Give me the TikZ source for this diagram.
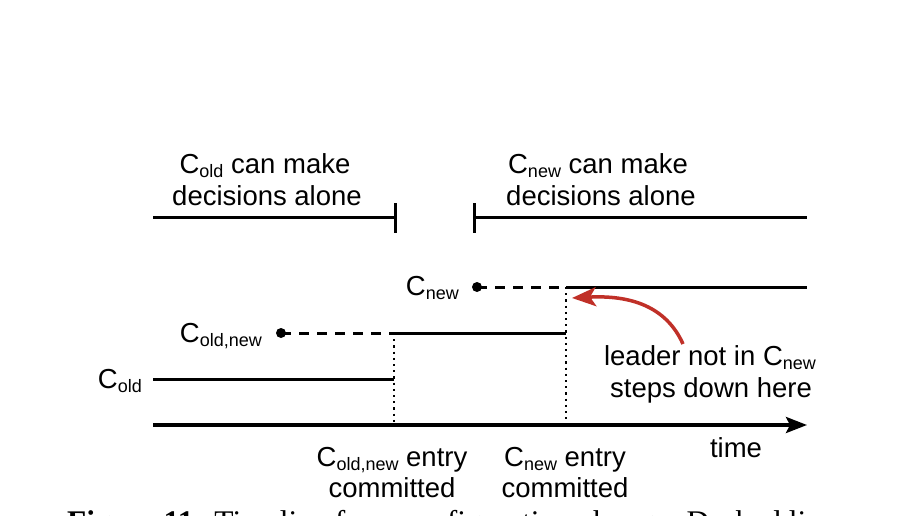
\documentclass[tikz,border=0pt]{standalone}
\usepackage{fontspec}
\setmainfont{Liberation Sans}
\newfontfamily\capfont{Liberation Serif}
\usetikzlibrary{arrows.meta}
\definecolor{arrowred}{RGB}{192,48,40}
\newcommand\lsub[1]{\raisebox{-4pt}{\fontsize{18}{18}\selectfont #1}}
\begin{document}
\begin{tikzpicture}[x=1pt,y=-1pt,
  lbl/.style={font=\fontsize{27.5}{32}\selectfont, inner sep=0pt, anchor=base},
  seg/.style={line width=3pt},
  dashseg/.style={line width=3pt, dash pattern=on 10pt off 8pt},
  dotseg/.style={line width=2.2pt, dash pattern=on 2.2pt off 4pt},
  dotpt/.style={circle, fill=black, inner sep=0pt, minimum size=10pt},
]
\useasboundingbox (0,0) rectangle (904,516);
% top spans
\coordinate (aL) at (153,217); \coordinate (aR) at (395,217);
\coordinate (bL) at (474,217); \coordinate (bR) at (807,217);
\coordinate (aRt) at (395,203); \coordinate (aRb) at (395,233);
\coordinate (bLt) at (474,203); \coordinate (bLb) at (474,233);
\draw[seg] (aL) -- (aR);
\draw[seg] (aRt) -- (aRb);
\draw[seg] (bL) -- (bR);
\draw[seg] (bLt) -- (bLb);
\node[lbl] (t1a) at (265,173) {C\lsub{old} can make};
\node[lbl] (t1b) at (267,205) {decisions alone};
\node[lbl] (t2a) at (598,173) {C\lsub{new} can make};
\node[lbl] (t2b) at (601,205) {decisions alone};
% C_new row
\node[dotpt] (d3) at (477,287) {};
\coordinate (c3s) at (566,287); \coordinate (c3e) at (807,287);
\draw[dashseg] (d3.center) -- (c3s);
\draw[seg] (c3s) -- (c3e);
\node[lbl, anchor=base east] (l3) at (459,295) {C\lsub{new}};
% C_old,new row
\node[dotpt] (d2) at (281,333) {};
\coordinate (c2s) at (394,333); \coordinate (c2e) at (566,333);
\draw[dashseg] (d2.center) -- (c2s);
\draw[seg] (c2s) -- (c2e);
\node[lbl, anchor=base east] (l2) at (262,342) {C\lsub{old,new}};
% C_old row
\coordinate (c1s) at (153,379); \coordinate (c1e) at (394,379);
\draw[seg] (c1s) -- (c1e);
\node[lbl, anchor=base east] (l1) at (142,388) {C\lsub{old}};
% dotted verticals
\coordinate (v1b) at (394,425); \coordinate (v2b) at (566,425);
\draw[dotseg] (c2s) -- (v1b);
\draw[dotseg] (c3s) -- (v2b);
% axis
\coordinate (axL) at (153,425); \coordinate (axR) at (807,425);
\draw[line width=3.5pt, -{Stealth[length=21pt,width=16pt,inset=4pt]}] (axL) -- (axR);
\node[lbl] (time) at (736,457) {time};
% bottom labels
\node[lbl] (b1a) at (392,466) {C\lsub{old,new} entry};
\node[lbl] (b1b) at (392,497) {committed};
\node[lbl] (b2a) at (565,466) {C\lsub{new} entry};
\node[lbl] (b2b) at (565,497) {committed};
% leader note
\node[lbl] (n1) at (710,365) {leader not in C\lsub{new}};
\node[lbl] (n2) at (711,397) {steps down here};
\coordinate (rt) at (683,344); \coordinate (rh) at (572,298);
\draw[arrowred, line width=3.5pt, -{Stealth[length=24pt,width=19pt,inset=6pt]}] (rt) .. controls (666,306) and (630,295) .. (rh);
% caption (cut off by the frame, as in the reference)
\node[font=\capfont\fontsize{31.5}{36}\selectfont, inner sep=0pt, anchor=base west] (cap) at (67,532) {\textbf{Figure 11:} Timeline for a configuration change. Dashed li};
\end{tikzpicture}
\end{document}
